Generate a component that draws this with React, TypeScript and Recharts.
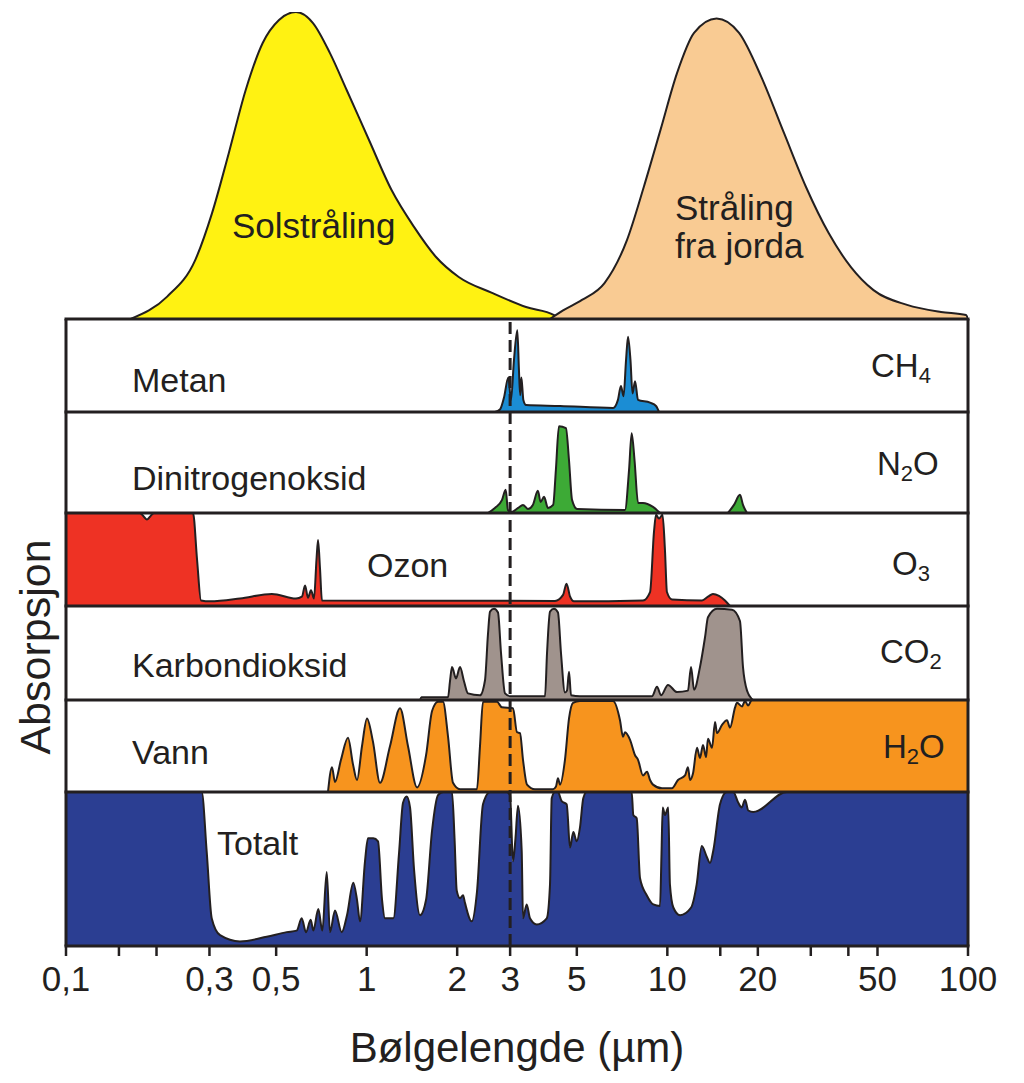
import { Area, AreaChart, Line, LineChart, XAxis, YAxis } from "recharts";

type Pair = [number, number];

// wavelength (µm), relative intensity 0-100
const SUN: Pair[] = [
  [0.164, 0], [0.217, 7.3], [0.269, 19.2], [0.306, 34.5], [0.348, 54.1], [0.396, 74.6],
  [0.451, 89.9], [0.511, 97.4], [0.582, 100], [0.663, 96.4], [0.755, 86.6], [0.858, 74.6],
  [1.018, 58.3], [1.21, 42], [1.437, 30], [1.701, 20.2], [2.024, 13.7], [2.611, 8.5],
  [3.388, 3.9], [4.2, 1.3], [4.35, 0],
];

const EARTH: Pair[] = [
  [4.07, 0], [4.5, 2.8], [5.2, 6.2], [6.18, 11.7], [7.34, 25.7], [8.35, 43], [9.49, 61.6],
  [10.77, 80.1], [12.27, 93.2], [14.58, 97.9], [17.32, 93.2], [20.55, 78.8], [24.43, 60.6],
  [28.92, 43], [34.4, 28], [40.8, 16.9], [48.5, 9.4], [62.7, 4.6], [81.3, 2.3], [98.5, 1.3],
  [100, 0],
];

// absorption 0-1 per gas
const METHANE: Pair[] = [
  [2.67, 0], [2.78, 0.03], [2.86, 0.15], [2.96, 0.37], [3.02, 0.13], [3.09, 0.56], [3.17, 0.88],
  [3.21, 0.45], [3.24, 0.18], [3.27, 0.37], [3.32, 0.13], [3.39, 0.075], [4.4, 0.065],
  [6.6, 0.043], [6.85, 0.13], [7.01, 0.28], [7.15, 0.17], [7.29, 0.56], [7.4, 0.81],
  [7.54, 0.56], [7.66, 0.2], [7.81, 0.33], [7.99, 0.13], [8.76, 0.1], [9.17, 0.065], [9.38, 0],
];

const NITROUS: Pair[] = [
  [2.53, 0], [2.67, 0.05], [2.82, 0.13], [2.9, 0.23], [2.95, 0.03], [3.04, 0.01], [3.19, 0.05],
  [3.31, 0.08], [3.44, 0.04], [3.57, 0.08], [3.71, 0.22], [3.79, 0.11], [3.89, 0.16],
  [4.01, 0.05], [4.17, 0.08], [4.26, 0.43], [4.36, 0.86], [4.6, 0.84], [4.71, 0.52],
  [4.82, 0.13], [5.01, 0.04], [7.23, 0.03], [7.46, 0.43], [7.61, 0.79], [7.78, 0.52],
  [7.99, 0.1], [8.3, 0.1], [8.96, 0.06], [9.46, 0],
];

const NITROUS_FAR: Pair[] = [[15.9, 0], [16.66, 0.08], [17.44, 0.18], [17.85, 0.08], [18.41, 0]];

const OZONE: Pair[] = [
  [0.1, 1], [0.176, 1], [0.1816, 0.96], [0.1859, 0.93], [0.1902, 0.96], [0.1961, 1],
  [0.2645, 1], [0.2728, 0.5], [0.2812, 0.06], [0.3013, 0.05], [0.379, 0.08], [0.484, 0.13],
  [0.582, 0.08], [0.609, 0.1], [0.624, 0.22], [0.638, 0.09], [0.653, 0.17], [0.668, 0.08],
  [0.681, 0.5], [0.689, 0.71], [0.6996, 0.4], [0.71, 0.06], [4.23, 0.055], [4.5, 0.12],
  [4.62, 0.24], [4.75, 0.1], [4.89, 0.05], [8.3, 0.06], [8.76, 0.15], [9.03, 0.8],
  [9.17, 0.98], [9.38, 0.94], [9.64, 0.98], [9.82, 0.6], [9.97, 0.15], [10.36, 0.07],
  [13.04, 0.06], [13.65, 0.1], [14.18, 0.13], [14.85, 0.11], [15.55, 0.06], [16.16, 0],
];

const CARBON: Pair[] = [
  [1.505, 0], [1.52, 0.03], [1.865, 0.03], [1.893, 0.2], [1.922, 0.35], [1.982, 0.23],
  [2.044, 0.35], [2.107, 0.2], [2.173, 0.07], [2.382, 0.05], [2.475, 0.21], [2.532, 0.7],
  [2.572, 0.94], [2.652, 0.97], [2.734, 0.93], [2.798, 0.5], [2.885, 0.07], [2.998, 0.04],
  [3.919, 0.04], [3.98, 0.5], [4.072, 0.94], [4.198, 0.97], [4.328, 0.93], [4.429, 0.5],
  [4.566, 0.08], [4.637, 0.1], [4.71, 0.3], [4.783, 0.05], [5.123, 0.04], [8.89, 0.04],
  [9.24, 0.14], [9.53, 0.05], [10.05, 0.16], [10.77, 0.085], [11.71, 0.1], [11.99, 0.35],
  [12.27, 0.11], [12.84, 0.35], [13.35, 0.67], [13.65, 0.88], [14.63, 0.97], [16.41, 0.96],
  [17.44, 0.84], [17.85, 0.35], [18.41, 0.1], [19.27, 0],
];

const WATER: Pair[] = [
  [0.7437, 0], [0.7668, 0.27], [0.7846, 0.11], [0.8214, 0.35], [0.8667, 0.59], [0.9006, 0.3],
  [0.9287, 0.13], [0.965, 0.5], [1.0025, 0.8], [1.049, 0.55], [1.1075, 0.1], [1.196, 0.5],
  [1.291, 0.91], [1.372, 0.5], [1.471, 0.05], [1.576, 0.4], [1.65, 0.88], [1.727, 0.98],
  [1.794, 0.98], [1.865, 0.6], [1.937, 0.1], [2.044, 0.03], [2.327, 0.03], [2.382, 0.5],
  [2.437, 0.98], [2.713, 0.98], [2.818, 0.92], [3.067, 0.91], [3.162, 0.65], [3.236, 0.64],
  [3.311, 0.35], [3.414, 0.08], [3.629, 0.03], [4.166, 0.03], [4.263, 0.06], [4.328, 0.15],
  [4.395, 0.08], [4.566, 0.35], [4.71, 0.8], [4.856, 0.97], [5.123, 0.99], [6.596, 0.99],
  [6.959, 0.78], [7.121, 0.6], [7.231, 0.65], [7.512, 0.57], [7.81, 0.4], [7.99, 0.35],
  [8.3, 0.18], [8.56, 0.22], [8.76, 0.13], [8.96, 0.08], [9.6, 0.04], [10.36, 0.04],
  [10.85, 0.13], [11.45, 0.18], [11.71, 0.27], [11.9, 0.13], [12.17, 0.2], [12.55, 0.48],
  [12.84, 0.37], [13.14, 0.51], [13.45, 0.38], [13.65, 0.58], [14.08, 0.48], [14.41, 0.76],
  [14.63, 0.64], [15.2, 0.73], [15.79, 0.78], [16.16, 0.7], [16.8, 0.92], [17.05, 0.97],
  [17.72, 0.93], [18.13, 0.99], [18.55, 0.94], [19.12, 1], [100, 1],
];

const TOTAL: Pair[] = [
  [0.1, 1], [0.2827, 1], [0.2938, 0.61], [0.3052, 0.18], [0.3254, 0.07], [0.379, 0.03],
  [0.465, 0.06], [0.542, 0.09], [0.5852, 0.1], [0.6079, 0.18], [0.6284, 0.09], [0.6514, 0.17],
  [0.6646, 0.1], [0.6906, 0.24], [0.7121, 0.1], [0.7365, 0.48], [0.7551, 0.09], [0.7846, 0.23],
  [0.826, 0.09], [0.8601, 0.2], [0.9027, 0.41], [0.9287, 0.3], [0.9502, 0.16], [0.9873, 0.55],
  [1.01, 0.7], [1.052, 0.7], [1.091, 0.68], [1.125, 0.3], [1.151, 0.18], [1.227, 0.18],
  [1.281, 0.6], [1.321, 0.93], [1.359, 0.97], [1.394, 0.9], [1.437, 0.5], [1.505, 0.2],
  [1.576, 0.3], [1.65, 0.75], [1.727, 0.98], [1.798, 1], [1.922, 1], [1.96, 0.7],
  [1.993, 0.36], [2.044, 0.31], [2.092, 0.33], [2.123, 0.28], [2.235, 0.16], [2.327, 0.35],
  [2.437, 0.92], [2.572, 1], [2.923, 1], [2.998, 0.98], [3.067, 0.55], [3.126, 0.7],
  [3.186, 0.91], [3.278, 0.62], [3.311, 0.18], [3.406, 0.27], [3.493, 0.18], [3.677, 0.14],
  [3.971, 0.18], [4.072, 0.4], [4.125, 0.96], [4.23, 1], [4.328, 1], [4.452, 0.94],
  [4.627, 0.92], [4.746, 0.64], [4.868, 0.74], [4.996, 0.68], [5.123, 0.77], [5.253, 0.96],
  [5.392, 1], [7.612, 1], [7.706, 0.85], [7.909, 0.83], [8.113, 0.44], [8.54, 0.33],
  [8.98, 0.27], [9.455, 0.26], [9.563, 0.6], [9.652, 0.9], [9.82, 0.85], [10.07, 0.9],
  [10.2, 0.4], [10.47, 0.25], [11.02, 0.2], [12.0, 0.25], [12.52, 0.4], [13.02, 0.65],
  [13.52, 0.58], [13.87, 0.54], [14.22, 0.62], [14.97, 0.92], [15.75, 1], [16.57, 1],
  [17.22, 0.93], [17.68, 0.9], [18.13, 0.95], [18.59, 0.88], [19.31, 0.87], [24.95, 1],
  [100, 1],
];

const X_TICKS = [0.1, 0.15, 0.2, 0.3, 0.5, 1, 2, 3, 5, 10, 15, 20, 30, 40, 50, 100];
const X_TICK_LABELS = ["0,1", "", "", "0,3", "0,5", "1", "2", "3", "5", "10", "", "20", "", "", "50", "100"];
const DASH_AT = 3;

const INK = "#231f20";
const FONT = "'Liberation Sans', Arial, sans-serif";
const PLOT_LEFT = 66;
const PLOT_RIGHT = 968;
const PLOT_WIDTH = PLOT_RIGHT - PLOT_LEFT;
const PANEL_TOP = 319;
const PANEL_BOTTOM = 946;

const toRows = (pairs: Pair[]) => pairs.map(([x, y]) => ({ x, y }));

interface Series {
  points: Pair[];
  color: string;
}

interface BandProps {
  top: number;
  bottom: number;
  yMax?: number;
  series: Series[];
}

function Band({ top, bottom, yMax = 1, series }: BandProps) {
  return (
    <div style={{ position: "absolute", left: PLOT_LEFT, top }}>
      <AreaChart width={PLOT_WIDTH} height={bottom - top} margin={{ top: 0, right: 0, bottom: 0, left: 0 }}>
        <XAxis hide type="number" dataKey="x" scale="log" domain={[0.1, 100]} allowDataOverflow />
        <YAxis hide type="number" domain={[0, yMax]} allowDataOverflow />
        {series.map((s, i) => (
          <Area
            key={i}
            data={toRows(s.points)}
            dataKey="y"
            type="monotone"
            fill={s.color}
            fillOpacity={1}
            stroke={INK}
            strokeWidth={2}
            dot={false}
            activeDot={false}
            isAnimationActive={false}
          />
        ))}
      </AreaChart>
    </div>
  );
}

// y of the panel dividers, top to bottom
const DIVIDERS = [319, 412, 513, 606, 700, 792, 946];

function Formula({ x, y, main, sub, tail }: { x: number; y: number; main: string; sub: string; tail?: string }) {
  return (
    <text x={x} y={y} fontSize={33} fill={INK} fontFamily={FONT}>
      {main}
      <tspan fontSize={22} dy={6}>{sub}</tspan>
      {tail ? <tspan dy={-6}>{tail}</tspan> : null}
    </text>
  );
}

export default function App() {
  const label = { fontSize: 34, fill: INK, fontFamily: FONT };
  return (
    <div style={{ position: "relative", width: 1024, height: 1083, background: "#fff" }}>
      <style>{"body{margin:0}"}</style>

      <Band
        top={12}
        bottom={PANEL_TOP}
        yMax={100}
        series={[
          { points: SUN, color: "#fff212" },
          { points: EARTH, color: "#f9cb93" },
        ]}
      />
      <Band top={319} bottom={412} series={[{ points: METHANE, color: "#1b8dd4" }]} />
      <Band
        top={412}
        bottom={513}
        series={[
          { points: NITROUS, color: "#3daa36" },
          { points: NITROUS_FAR, color: "#3daa36" },
        ]}
      />
      <Band top={513} bottom={606} series={[{ points: OZONE, color: "#ee3224" }]} />
      <Band top={606} bottom={700} series={[{ points: CARBON, color: "#a0938d" }]} />
      <Band top={700} bottom={792} series={[{ points: WATER, color: "#f7941e" }]} />
      <Band top={792} bottom={946} series={[{ points: TOTAL, color: "#2b3e92" }]} />

      <svg width={1024} height={1083} style={{ position: "absolute", left: 0, top: 0 }}>
        {DIVIDERS.map((y) => (
          <line key={y} x1={PLOT_LEFT - 1.5} x2={PLOT_RIGHT + 1.5} y1={y} y2={y} stroke={INK} strokeWidth={3} />
        ))}
        <line x1={PLOT_LEFT} x2={PLOT_LEFT} y1={PANEL_TOP} y2={PANEL_BOTTOM} stroke={INK} strokeWidth={3} />
        <line x1={PLOT_RIGHT} x2={PLOT_RIGHT} y1={PANEL_TOP} y2={PANEL_BOTTOM} stroke={INK} strokeWidth={3} />

        <text x={232} y={238} fontSize={35} fill={INK} fontFamily={FONT}>Solstråling</text>
        <text x={675} y={220} fontSize={35} fill={INK} fontFamily={FONT}>Stråling</text>
        <text x={675} y={258} fontSize={35} fill={INK} fontFamily={FONT}>fra jorda</text>

        <text x={132} y={392} {...label}>Metan</text>
        <text x={132} y={490} {...label}>Dinitrogenoksid</text>
        <text x={367} y={577} {...label}>Ozon</text>
        <text x={132} y={677} {...label}>Karbondioksid</text>
        <text x={132} y={764} {...label}>Vann</text>
        <text x={217} y={855} {...label}>Totalt</text>

        <Formula x={871} y={377} main="CH" sub="4" />
        <Formula x={877} y={475} main="N" sub="2" tail="O" />
        <Formula x={892} y={575} main="O" sub="3" />
        <Formula x={880} y={663} main="CO" sub="2" />
        <Formula x={883} y={758} main="H" sub="2" tail="O" />

        <text
          transform="translate(50,647) rotate(-90)"
          textAnchor="middle"
          fontSize={43}
          fill={INK}
          fontFamily={FONT}
        >
          Absorpsjon
        </text>
      </svg>

      <div style={{ position: "absolute", left: 0, top: 0 }}>
        <LineChart width={1024} height={1083} margin={{ top: PANEL_TOP, right: 1024 - PLOT_RIGHT, bottom: 0, left: PLOT_LEFT }}>
          <XAxis
            type="number"
            dataKey="x"
            scale="log"
            domain={[0.1, 100]}
            allowDataOverflow
            ticks={X_TICKS}
            interval={0}
            tickFormatter={(v: number) => X_TICK_LABELS[X_TICKS.indexOf(v)] ?? ""}
            height={1083 - PANEL_BOTTOM}
            axisLine={false}
            tickLine={{ stroke: INK, strokeWidth: 2.5 }}
            tickSize={10}
            tickMargin={10}
            tick={{ fill: INK, fontSize: 35, fontFamily: FONT }}
            label={{ value: "Bølgelengde (µm)", position: "insideBottom", offset: 21, fill: INK, fontSize: 42, fontFamily: FONT }}
          />
          <YAxis hide type="number" domain={[0, 1]} />
          <Line
            data={[{ x: DASH_AT, y: 0 }, { x: DASH_AT, y: 1 }]}
            dataKey="y"
            type="linear"
            stroke={INK}
            strokeWidth={3}
            strokeDasharray="12 6"
            dot={false}
            activeDot={false}
            isAnimationActive={false}
          />
        </LineChart>
      </div>
    </div>
  );
}
